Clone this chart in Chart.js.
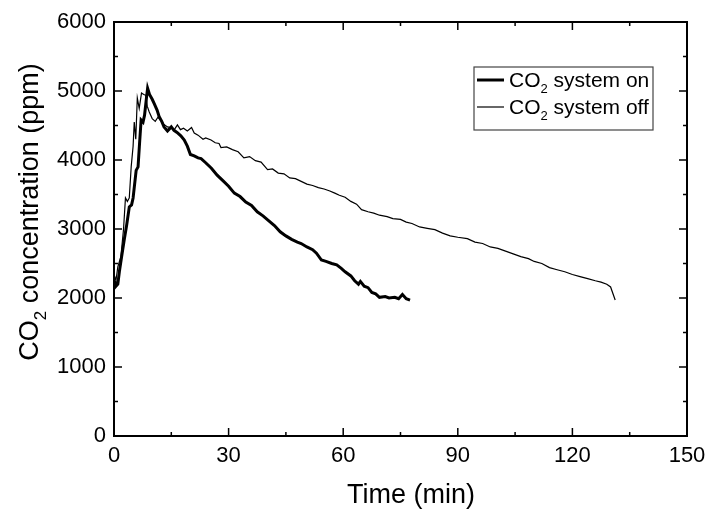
<!DOCTYPE html>
<html>
<head>
<meta charset="utf-8">
<script src="https://cdn.jsdelivr.net/npm/chart.js@4.4.1/dist/chart.umd.min.js"></script>
<style>
    html, body { margin: 0; padding: 0; background: #fff; }
    #wrap { width: 707px; height: 509px; }
</style>
</head>
<body>
<div id="wrap"><canvas id="Co2Chart" width="707" height="509"></canvas></div>
<script>
// CO2 system on (thick line)
const onTime = [0.2, 0.5, 1.0, 1.4, 2.0, 2.7, 3.3, 4.0, 4.6, 5.0, 5.8, 6.3, 6.7, 7.1, 7.6, 8.0, 8.5, 8.8, 9.3, 10.0,
    10.5, 11.3, 11.8, 12.5, 13.1, 14.0, 15.0, 15.7, 16.5, 17.5, 18.4, 19.2, 20.0, 21.0, 22.0, 22.8, 24.0, 25.5, 27.0, 28.5,
    30.0, 31.5, 33.0, 34.5, 36.0, 37.5, 39.0, 40.3, 42.0, 43.5, 45.0, 46.5, 48.0, 49.0, 50.5, 52.0, 53.0, 54.3, 55.5, 57.0,
    58.3, 59.5, 60.5, 62.0, 63.0, 64.0, 64.5, 65.5, 66.5, 67.5, 68.5, 69.5, 71.0, 72.0, 73.5, 74.5, 75.5, 76.5, 77.5];
const onValue = [2250, 2170, 2200, 2380, 2600, 2850, 3050, 3320, 3350, 3450, 3850, 3900, 4250, 4580, 4550, 4650, 4900, 5040, 4950, 4880,
    4820, 4720, 4630, 4560, 4480, 4420, 4480, 4430, 4400, 4350, 4290, 4200, 4080, 4060, 4030, 4020, 3960, 3880, 3780, 3700,
    3620, 3520, 3470, 3390, 3340, 3250, 3190, 3130, 3050, 2960, 2900, 2850, 2810, 2790, 2740, 2700, 2650, 2550, 2530, 2500,
    2480, 2430, 2380, 2320, 2250, 2200, 2240, 2170, 2150, 2080, 2060, 2010, 2020, 2000, 2010, 1990, 2050, 1990, 1970];

// CO2 system off (thin line)
const offTime = [0, 0.5, 1.0, 1.8, 2.5, 3.0, 3.5, 4.0, 4.5, 5.0, 5.3, 5.7, 6.1, 6.6, 7.2, 7.8, 8.3, 8.7, 9.2, 10.0,
    10.8, 11.5, 12.2, 13.0, 14.0, 15.0, 15.8, 16.6, 17.4, 18.2, 19.2, 20.3, 21.0, 22.0, 23.3, 24.0, 25.4, 26.5, 27.5, 28.0,
    29.5, 31.0, 32.5, 34.0, 35.5, 37.0, 38.5, 40.2, 41.5, 43.0, 44.5, 46.0, 47.5, 49.0, 50.5, 52.0, 53.5, 55.0, 56.5, 57.8,
    59.0, 60.5, 62.0, 63.5, 64.8, 66.5, 68.0, 69.5, 71.5, 73.0, 75.0, 76.5, 78.0, 80.0, 82.0, 84.0, 86.0, 88.0, 90.0, 92.5,
    94.5, 96.5, 98.5, 100.5, 102.5, 104.5, 106.5, 108.5, 110.0, 112.0, 114.0, 116.0, 118.0, 120.0, 122.0, 124.0, 126.0, 127.5, 129.0, 130.0,
    131.2];
const offValue = [2350, 2250, 2450, 2600, 3000, 3450, 3400, 3450, 3900, 4200, 4550, 4300, 4900, 4750, 4970, 4950, 4940, 4780, 4700, 4600,
    4560, 4620, 4570, 4520, 4480, 4470, 4440, 4510, 4440, 4460, 4420, 4470, 4390, 4360, 4300, 4320, 4290, 4250, 4240, 4180,
    4190, 4150, 4120, 4030, 4050, 3990, 3970, 3860, 3870, 3810, 3800, 3740, 3730, 3690, 3650, 3630, 3600, 3580, 3550, 3520,
    3490, 3460, 3400, 3360, 3280, 3250, 3230, 3200, 3180, 3150, 3140, 3100, 3080, 3030, 3010, 2990, 2940, 2900, 2880, 2860,
    2810, 2790, 2740, 2720, 2680, 2640, 2600, 2570, 2530, 2500, 2440, 2410, 2380, 2340, 2310, 2280, 2250, 2230, 2200, 2160,
    1970];

const xMinorTicks = [15, 45, 75, 105, 135];
const yMinorTicks = [500, 1500, 2500, 3500, 4500, 5500];

const FONT = "'Liberation Sans', Arial, Helvetica, sans-serif";

function toPoints(xs, ys) {
    return xs.map((x, i) => ({ x: x, y: ys[i] }));
}

// text with a "2" subscript etc: parts = [[text, isSub], ...]
function drawParts(ctx, parts, x, y, size, align) {
    const sub = Math.round(size * 0.62);
    let total = 0;
    parts.forEach(p => {
        ctx.font = (p[1] ? sub : size) + "px " + FONT;
        total += ctx.measureText(p[0]).width;
    });
    let cx = align === "center" ? x - total / 2 : x;
    ctx.textAlign = "left";
    ctx.textBaseline = "alphabetic";
    parts.forEach(p => {
        ctx.font = (p[1] ? sub : size) + "px " + FONT;
        ctx.fillText(p[0], cx, p[1] ? y + size * 0.28 : y);
        cx += ctx.measureText(p[0]).width;
    });
}

const framePlugin = {
    id: "frame",
    afterDraw(chart) {
        const ctx = chart.ctx;
        const a = chart.chartArea;
        const xs = chart.scales.x;
        const ys = chart.scales.y;
        ctx.save();
        ctx.strokeStyle = "#000";
        ctx.fillStyle = "#000";

        // frame
        ctx.lineWidth = 2;
        ctx.strokeRect(a.left, a.top, a.right - a.left, a.bottom - a.top);

        // inward ticks on all four sides
        ctx.lineWidth = 1.5;
        ctx.beginPath();
        xs.ticks.forEach(t => {
            const px = xs.getPixelForValue(t.value);
            ctx.moveTo(px, a.bottom); ctx.lineTo(px, a.bottom - 8);
            ctx.moveTo(px, a.top); ctx.lineTo(px, a.top + 8);
        });
        xMinorTicks.forEach(v => {
            const px = xs.getPixelForValue(v);
            ctx.moveTo(px, a.bottom); ctx.lineTo(px, a.bottom - 4);
            ctx.moveTo(px, a.top); ctx.lineTo(px, a.top + 4);
        });
        ys.ticks.forEach(t => {
            const py = ys.getPixelForValue(t.value);
            ctx.moveTo(a.left, py); ctx.lineTo(a.left + 8, py);
            ctx.moveTo(a.right, py); ctx.lineTo(a.right - 8, py);
        });
        yMinorTicks.forEach(v => {
            const py = ys.getPixelForValue(v);
            ctx.moveTo(a.left, py); ctx.lineTo(a.left + 4, py);
            ctx.moveTo(a.right, py); ctx.lineTo(a.right - 4, py);
        });
        ctx.stroke();

        // axis titles
        drawParts(ctx, [["Time (min)", false]], 411, 503, 27, "center");
        ctx.save();
        ctx.translate(38, 212);
        ctx.rotate(-Math.PI / 2);
        drawParts(ctx, [["CO", false], ["2", true], [" concentration (ppm)", false]], 0, 0, 27, "center");
        ctx.restore();

        // legend box
        const bx = 474, by = 67, bw = 179, bh = 63;
        ctx.fillStyle = "#fff";
        ctx.fillRect(bx, by, bw, bh);
        ctx.lineWidth = 1.2;
        ctx.strokeStyle = "#444";
        ctx.strokeRect(bx, by, bw, bh);
        ctx.strokeStyle = "#000";
        ctx.fillStyle = "#000";
        chart.data.datasets.forEach((ds, i) => {
            const ly = by + 13 + i * 27;
            ctx.lineWidth = ds.borderWidth;
            ctx.beginPath();
            ctx.moveTo(bx + 3, ly);
            ctx.lineTo(bx + 30, ly);
            ctx.stroke();
            drawParts(ctx, [["CO", false], ["2", true], [ds.label.replace("CO2", ""), false]], bx + 35, ly + 7, 21, "left");
        });
        ctx.restore();
    },
};

function Co2Chart() {
    const ctx = document.getElementById("Co2Chart");

    new Chart(ctx, {
        type: "line",
        data: {
            datasets: [
                {
                    label: "CO2 system on",
                    data: toPoints(onTime, onValue),
                    borderColor: "#000",
                    borderWidth: 3,
                    pointRadius: 0,
                    fill: false,
                    tension: 0,
                    order: 0,
                },
                {
                    label: "CO2 system off",
                    data: toPoints(offTime, offValue),
                    borderColor: "#000",
                    borderWidth: 1.2,
                    pointRadius: 0,
                    fill: false,
                    tension: 0,
                    order: 1,
                },
            ],
        },
        options: {
            responsive: false,
            animation: false,
            layout: {
                padding: { top: 22, right: 20, left: 0, bottom: 0 },
            },
            plugins: {
                legend: { display: false },
                tooltip: { enabled: false },
            },
            scales: {
                x: {
                    type: "linear",
                    min: 0,
                    max: 150,
                    grid: { display: false, drawTicks: false },
                    border: { display: false },
                    ticks: {
                        stepSize: 30,
                        color: "#000",
                        padding: 7,
                        maxRotation: 0,
                        font: { family: FONT, size: 22 },
                        callback: (value) => String(value),
                    },
                    afterFit(scale) {
                        scale.height = 73;
                        scale.paddingLeft = 0;
                        scale.paddingRight = 0;
                    },
                },
                y: {
                    type: "linear",
                    min: 0,
                    max: 6000,
                    grid: { display: false, drawTicks: false },
                    border: { display: false },
                    ticks: {
                        stepSize: 1000,
                        color: "#000",
                        padding: 8,
                        font: { family: FONT, size: 22 },
                        callback: (value) => String(value),
                    },
                    afterFit(scale) {
                        scale.width = 114;
                        scale.paddingTop = 0;
                        scale.paddingBottom = 0;
                    },
                },
            },
        },
        plugins: [framePlugin],
    });
}

Co2Chart();
</script>
</body>
</html>
